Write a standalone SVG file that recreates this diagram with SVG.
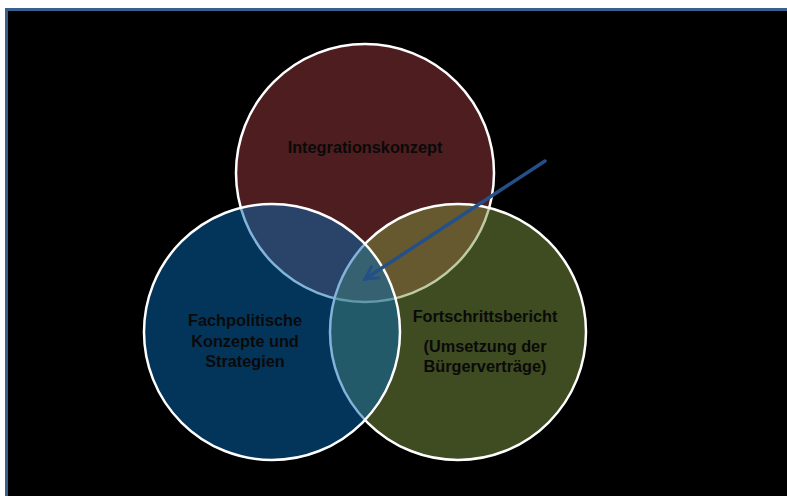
<svg xmlns="http://www.w3.org/2000/svg" width="787" height="496" viewBox="0 0 787 496">
<defs>
<style>
.c{stroke:#ffffff;stroke-width:2.5;fill-opacity:0.5}
.t{font-family:"Liberation Sans",Arial,sans-serif;font-weight:bold;font-size:16.3px;fill:#0a0a0a;text-anchor:middle}
.arr{stroke:#24508a;stroke-width:3.5;fill:none;stroke-linecap:round}
</style>
<marker id="ah" viewBox="0 0 12 12" refX="10" refY="6" markerWidth="5" markerHeight="5" orient="auto" markerUnits="strokeWidth">
<path d="M1,1 L10,6 L1,11" fill="none" stroke="#24508a" stroke-width="2" stroke-linejoin="miter"/>
</marker>
</defs>
<rect x="0" y="0" width="787" height="496" fill="#ffffff"/>
<rect x="6.5" y="9.5" width="790" height="500" fill="#000000" stroke="#3a5f8c" stroke-width="3"/>
<g id="integrationskonzept">
<circle class="c" cx="365" cy="173" r="129" fill="#9c3a3e"/>
<text class="t" x="365" y="153">Integrationskonzept</text>
</g>
<g id="fortschrittsbericht">
<circle class="c" cx="458" cy="332" r="128" fill="#7e9640"/>
</g>
<g id="fachpolitische">
<circle class="c" cx="272" cy="332" r="128" fill="#066ab4"/>
</g>
<g id="labels">
<text class="t" x="245" y="326">Fachpolitische</text>
<text class="t" x="245" y="347">Konzepte und</text>
<text class="t" x="245" y="367">Strategien</text>
<text class="t" x="485" y="322">Fortschrittsbericht</text>
<text class="t" x="485" y="352">(Umsetzung der</text>
<text class="t" x="485" y="372">Bürgerverträge)</text>
</g>
<g id="connectors">
<line class="arr" x1="545" y1="161" x2="365" y2="279" marker-end="url(#ah)"/>
</g>
</svg>
